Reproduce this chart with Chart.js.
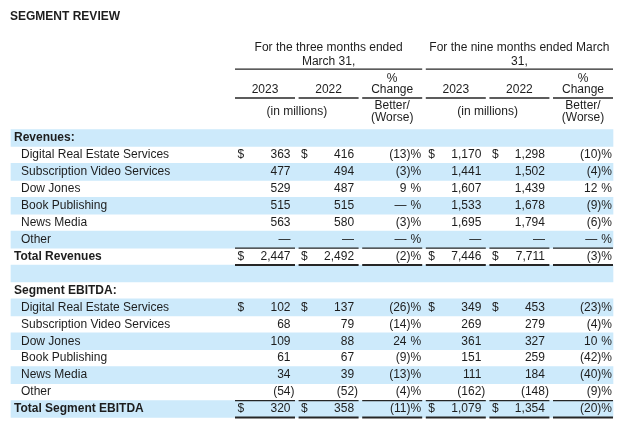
<!DOCTYPE html>
<html><head><meta charset="utf-8">
<script src="https://cdn.jsdelivr.net/npm/chart.js@4"></script>
<style>html,body{margin:0;padding:0;background:#fff}canvas{display:block}</style>
</head><body>
<canvas id="c" width="630" height="431"></canvas>
<script>
// ---------- data ----------
const title = 'SEGMENT REVIEW';
const periodHeaders = [['For the three months ended', 'March 31,'], ['For the nine months ended March', '31,']];
const yearLabels = ['2023', '2022'];
const changeHeader = ['%', 'Change'];
const changeSub = ['Better/', '(Worse)'];
const unitLabel = '(in millions)';
const segments = ['Digital Real Estate Services', 'Subscription Video Services', 'Dow Jones', 'Book Publishing', 'News Media', 'Other'];
const sectionTitles = ['Revenues:', 'Segment EBITDA:'];
const totalLabels = ['Total Revenues', 'Total Segment EBITDA'];
const columnKinds = ['value', 'value', 'pct', 'value', 'value', 'pct'];

const rev3m2023 = [363, 477, 529, 515, 563, 0];
const rev3m2022 = [416, 494, 487, 515, 580, 0];
const rev3mChg  = [-13, -3, 9, 0, -3, 0];
const rev9m2023 = [1170, 1441, 1607, 1533, 1695, 0];
const rev9m2022 = [1298, 1502, 1439, 1678, 1794, 0];
const rev9mChg  = [-10, -4, 12, -9, -6, 0];
const revTotals = [2447, 2492, -2, 7446, 7711, -3];

const ebitda3m2023 = [102, 68, 109, 61, 34, -54];
const ebitda3m2022 = [137, 79, 88, 67, 39, -52];
const ebitda3mChg  = [-26, -14, 24, -9, -13, -4];
const ebitda9m2023 = [349, 269, 361, 151, 111, -162];
const ebitda9m2022 = [453, 279, 327, 259, 184, -148];
const ebitda9mChg  = [-23, -4, 10, -42, -40, -9];
const ebitdaTotals = [320, 358, -11, 1079, 1354, -20];

// ---------- table model ----------
const sections = [
  { title: sectionTitles[0], total: totalLabels[0], cols: [rev3m2023, rev3m2022, rev3mChg, rev9m2023, rev9m2022, rev9mChg], totals: revTotals },
  { title: sectionTitles[1], total: totalLabels[1], cols: [ebitda3m2023, ebitda3m2022, ebitda3mChg, ebitda9m2023, ebitda9m2022, ebitda9mChg], totals: ebitdaTotals }
];
const rows = [];
sections.forEach((sec, s) => {
  if (s > 0) rows.push({ kind: 'blank' });
  rows.push({ kind: 'section', label: sec.title });
  segments.forEach((name, i) => rows.push({ kind: 'item', label: name, cells: sec.cols.map(c => c[i]), dollar: i === 0 }));
  rows.push({ kind: 'total', label: sec.total, cells: sec.totals, dollar: true });
});
const rowIdx = rows.map((_, i) => i);

// layout (scale units: x = column index, y = row index)
const HALF = 0.4717;
const BAND_L = -3.994, BAND_R = 5.4717;
const BLUE = '#cdeafb';
const INK = '#1d1d1d';
const FONT = '"Liberation Sans", Arial, sans-serif';

const tablePlugin = {
  id: 'tableText',
  afterDatasetsDraw(chart) {
    const ctx = chart.ctx;
    const xs = chart.scales.x, ys = chart.scales.y;
    const px = v => xs.getPixelForValue(v);
    const py = v => ys.getPixelForValue(v);
    const rowH = Math.abs(py(1) - py(0));
    ctx.save();
    ctx.fillStyle = INK;
    ctx.strokeStyle = '#262626';
    ctx.textBaseline = 'middle';
    const reg = '12px ' + FONT, bold = 'bold 12px ' + FONT;
    const text = (s, x, y, align, font) => { ctx.font = font || reg; ctx.textAlign = align; ctx.fillText(s, x, y); };
    const hline = (x1, x2, y, w) => { ctx.beginPath(); ctx.lineWidth = w; ctx.moveTo(x1, y); ctx.lineTo(x2, y); ctx.stroke(); };

    // title
    text(title, px(-4.009), py(-7.14), 'left', bold);

    // period headers
    [1, 4].forEach((c, g) => {
      text(periodHeaders[g][0], px(c), py(-5.31), 'center');
      text(periodHeaders[g][1], px(c), py(-4.49), 'center');
      hline(px(c - 1 - HALF), px(c + 1 + HALF), py(-4.07), 1.3);
      text(unitLabel, px(c - 0.5), py(-1.53), 'center');
    });
    columnKinds.forEach((k, c) => {
      if (k === 'pct') {
        text(changeHeader[0], px(c), py(-3.48), 'center');
        text(changeHeader[1], px(c), py(-2.83), 'center');
        text(changeSub[0], px(c), py(-1.89), 'center');
        text(changeSub[1], px(c), py(-1.18), 'center');
      } else {
        text(yearLabels[c % 3], px(c), py(-2.83), 'center');
      }
      hline(px(c - HALF), px(c + HALF), py(-2.36), 1.3);
    });

    // body
    ctx.font = reg;
    const parenW = ctx.measureText(')').width;
    const pctW = ctx.measureText('%').width;
    const fmt = v => Math.abs(v).toLocaleString('en-US');
    rows.forEach((r, i) => {
      const y = py(i);
      if (r.kind === 'blank') return;
      if (r.kind === 'section' || r.kind === 'total') text(r.label, px(-3.947), y, 'left', bold);
      else text(r.label, px(-3.836), y, 'left');
      if (!r.cells) return;
      r.cells.forEach((v, c) => {
        const L = px(c - HALF), R = px(c + HALF);
        if (columnKinds[c] === 'pct') {
          const pr = R - 1;
          text('%', pr, y, 'right');
          if (v < 0) text('(' + fmt(v) + ')', pr - pctW, y, 'right');
          else text(v === 0 ? '—' : fmt(v), pr - pctW - parenW, y, 'right');
        } else {
          const dr = R - 4.5;
          if (r.dollar) text('$', L + 2.5, y, 'left');
          if (v < 0) text('(' + fmt(v) + ')', dr + parenW, y, 'right');
          else text(v === 0 ? '—' : fmt(v), dr, y, 'right');
        }
        if (r.kind === 'total') {
          hline(L, R, y - rowH / 2, 1.3);
          hline(L, R, y + rowH / 2, 2);
        }
      });
    });
    ctx.restore();
  }
};

new Chart(document.getElementById('c'), {
  type: 'bar',
  data: {
    datasets: [{
      data: rowIdx.map(i => ({ x: [BAND_L, BAND_R], y: i })),
      backgroundColor: rowIdx.map(i => i % 2 === 0 ? BLUE : 'rgba(0,0,0,0)'),
      borderWidth: 0,
      barPercentage: 1,
      categoryPercentage: 1
    }]
  },
  options: {
    indexAxis: 'y',
    responsive: false,
    animation: false,
    devicePixelRatio: 1,
    layout: { padding: 0 },
    scales: {
      x: { type: 'linear', display: false, offset: false, min: -4.1667, max: 5.739 },
      y: { type: 'linear', display: false, offset: false, reverse: true, min: -8.147, max: 17.299,
           afterBuildTicks: s => { s.ticks = rowIdx.map(v => ({ value: v })); } }
    },
    plugins: { legend: { display: false }, tooltip: { enabled: false } }
  },
  plugins: [tablePlugin]
});
</script>
</body></html>
